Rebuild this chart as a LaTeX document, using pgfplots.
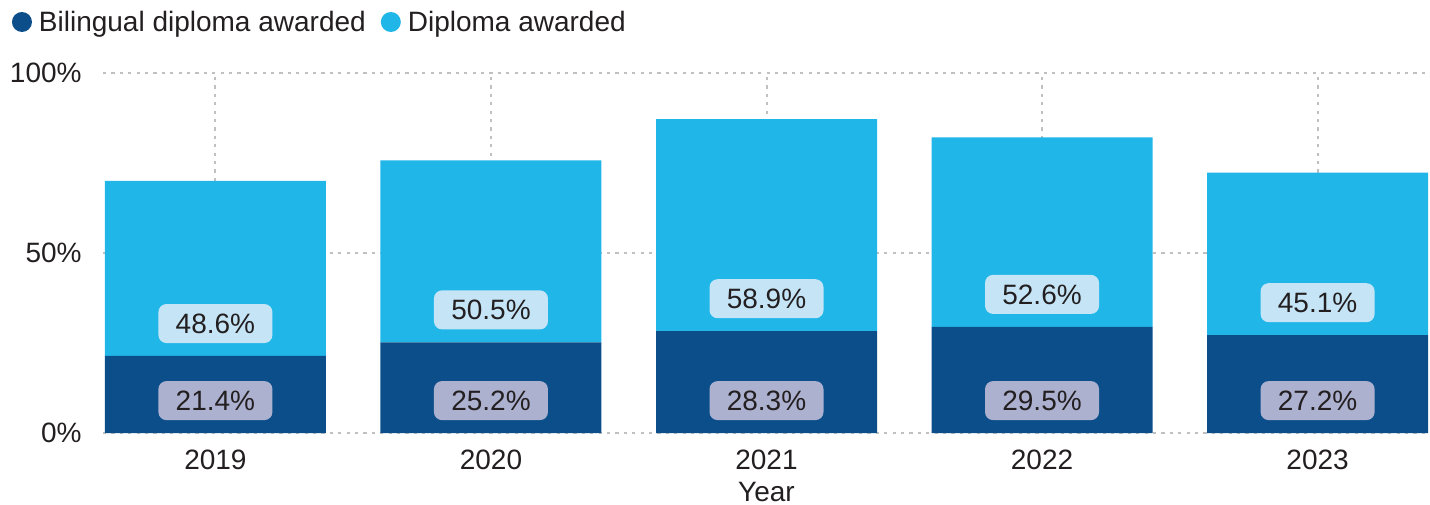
\documentclass[border=0pt]{standalone}
\usepackage{fontspec}
\setmainfont{Liberation Sans}
\usepackage{pgfplots}
\usepackage{pgfplotstable}
\pgfplotsset{compat=1.18}

\definecolor{cdark}{HTML}{0C4E8A}
\definecolor{clight}{HTML}{20B6E8}
\definecolor{cboxdark}{HTML}{ADB1D0}
\definecolor{cboxlight}{HTML}{C5E5F7}
\definecolor{ctext}{HTML}{231F20}
\definecolor{cgrid}{HTML}{C0C0C0}

% x = year index, b = bilingual diploma, d = diploma (percent)
\pgfplotstableread{
x b d
0 21.4 48.6
1 25.2 50.5
2 28.3 58.9
3 29.5 52.6
4 27.2 45.1
}\results

\pgfplotsset{
    frame/.style={
        at={(0,0)}, anchor=south west,
        scale only axis, width=663.5pt, height=180pt,
        font=\fontsize{14}{17}\selectfont,
        xmin=-0.408, xmax=4.408, ymin=0, ymax=100,
    },
}

\begin{document}
\begin{tikzpicture}[font=\fontsize{14}{17}\selectfont]
\begin{axis}[
    frame,
    ybar stacked, bar width=110.5pt,
    xtick={0,1,2,3,4}, xticklabels={2019,2020,2021,2022,2023},
    ytick={0,50,100}, yticklabels={0\%,50\%,100\%},
    axis line style={draw=none}, major tick length=0pt,
    grid=major,
    major grid style={cgrid, line width=1pt, dash pattern=on 1.6pt off 2.6pt},
    tick label style={text=ctext},
    xticklabel style={anchor=north, inner sep=0pt, yshift=-8.5pt},
    yticklabel style={anchor=east, inner sep=0pt, xshift=-10.5pt},
    xlabel={Year},
    xlabel style={at={(axis description cs:0.5,0)}, anchor=north,
        inner sep=0pt, yshift=-24.5pt, text=ctext},
    legend style={at={(axis description cs:-0.0686,1.1417)}, anchor=west,
        draw=none, fill=none, inner sep=0pt, outer sep=0pt,
        legend columns=-1,
        /tikz/every even column/.append style={column sep=4pt},
        nodes={inner xsep=3.5pt, inner ysep=2pt, text height=10pt,
            text depth=0pt, text=ctext}},
    legend image code/.code={\fill[#1] (5pt,0pt) circle (5pt);},
]
\addplot+[draw=none, fill=cdark] table[x=x, y=b] {\results};
\addlegendentry{Bilingual diploma awarded}
\addplot+[draw=none, fill=clight] table[x=x, y=d] {\results};
\addlegendentry{Diploma awarded}
\end{axis}
% value labels, each 9 points above the foot of its segment
\begin{axis}[
    frame, hide axis,
    point meta=explicit,
    /pgf/number format/assume math mode=true,
    nodes near coords={\pgfmathprintnumber[fixed,fixed zerofill,precision=1]{\pgfplotspointmeta}\%},
    every node near coord/.append style={anchor=center, text=ctext,
        rounded corners=4pt, text height=10pt, text depth=0pt,
        inner xsep=0pt, inner ysep=4.75pt, minimum width=57pt},
]
\addplot[draw=none, mark=none,
    every node near coord/.append style={fill=cboxdark}]
    table[x=x, y expr=9, meta=b] {\results};
\addplot[draw=none, mark=none,
    every node near coord/.append style={fill=cboxlight}]
    table[x=x, y expr=\thisrow{b}+9, meta=d] {\results};
\end{axis}
\pgfresetboundingbox
\useasboundingbox (-51.5pt,-35.5pt) rectangle (663.5pt,216.5pt);
\end{tikzpicture}
\end{document}
